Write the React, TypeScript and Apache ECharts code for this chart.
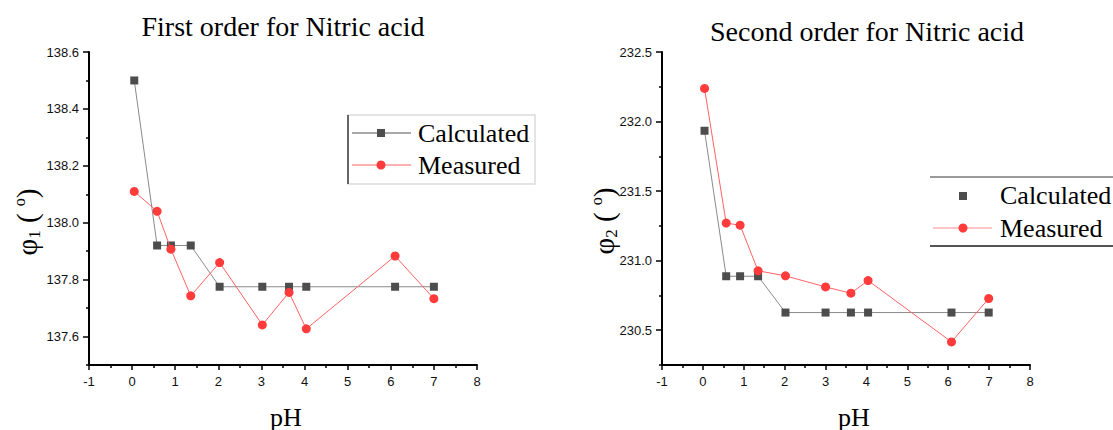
import React, { useEffect, useRef } from "react";
import * as echarts from "echarts";

// pH values (x)
const phLeft = [0.05, 0.58, 0.9, 1.36, 2.03, 3.02, 3.64, 4.04, 6.1, 7.0];
const phRight = [0.04, 0.57, 0.91, 1.35, 2.02, 3.0, 3.62, 4.04, 6.08, 6.99];

// First order (phi1)
const calculatedFirst = [138.5, 137.92, 137.92, 137.92, 137.775, 137.775, 137.775, 137.775, 137.775, 137.775];
const measuredFirst = [138.11, 138.04, 137.907, 137.743, 137.86, 137.641, 137.755, 137.627, 137.883, 137.733];

// Second order (phi2)
const calculatedSecond = [231.934, 230.888, 230.888, 230.888, 230.627, 230.627, 230.627, 230.627, 230.627, 230.627];
const measuredSecond = [232.238, 231.27, 231.255, 230.927, 230.891, 230.811, 230.766, 230.857, 230.416, 230.728];

// tick values
const yMajorLeft = [137.6, 137.8, 138.0, 138.2, 138.4, 138.6];
const yMinorLeft = [137.5, 137.7, 137.9, 138.1, 138.3, 138.5];
const yMajorRight = [230.5, 231.0, 231.5, 232.0, 232.5];
const yMinorRight = [230.25, 230.75, 231.25, 231.75, 232.25];

const titles = ["First order for Nitric acid", "Second order for Nitric acid"];
const seriesNames = ["Calculated", "Measured"];

const SANS = "Liberation Sans, Arial, sans-serif";
const SERIF = "Liberation Serif, Times New Roman, serif";

const zip = (xs: number[], ys: number[]) => xs.map((x, i) => [x, ys[i]]);

const axisLine = { show: true, onZero: false, lineStyle: { color: "#000", width: 2 } };

function xAxis(gridIndex: number) {
  return {
    type: "value",
    gridIndex,
    min: -1,
    max: 8,
    interval: 1,
    axisLine,
    axisTick: { show: true, length: 5, lineStyle: { color: "#000", width: 1.5 } },
    minorTick: { show: true, splitNumber: 2, length: 3, lineStyle: { color: "#000", width: 1.5 } },
    splitLine: { show: false },
    minorSplitLine: { show: false },
    axisLabel: { fontFamily: SANS, fontSize: 13, color: "#111", margin: 10 },
  };
}

function yAxes(gridIndex: number, min: number, max: number, interval: number, major: number[], minor: number[]) {
  return [
    {
      type: "value",
      gridIndex,
      position: "left",
      min,
      max,
      interval,
      axisLine,
      axisTick: { show: true, length: 6, customValues: major, lineStyle: { color: "#000", width: 1.5 } },
      axisLabel: {
        fontFamily: SANS,
        fontSize: 13,
        color: "#111",
        margin: 10,
        customValues: major,
        formatter: (v: number) => v.toFixed(1),
      },
      splitLine: { show: false },
    },
    {
      type: "value",
      gridIndex,
      position: "left",
      min,
      max,
      interval,
      axisLine: { show: false, onZero: false },
      axisTick: { show: true, length: 3, customValues: minor, lineStyle: { color: "#000", width: 1.5 } },
      axisLabel: { show: false },
      splitLine: { show: false },
    },
  ];
}

function calcSeries(xi: number, yi: number, data: number[][]) {
  return {
    name: seriesNames[0],
    type: "line",
    xAxisIndex: xi,
    yAxisIndex: yi,
    data,
    symbol: "rect",
    symbolSize: 8,
    itemStyle: { color: "#4d4d4d" },
    lineStyle: { color: "#8a8a8a", width: 1 },
    z: 2,
  };
}

function measSeries(xi: number, yi: number, data: number[][]) {
  return {
    name: seriesNames[1],
    type: "line",
    xAxisIndex: xi,
    yAxisIndex: yi,
    data,
    symbol: "circle",
    symbolSize: 9,
    itemStyle: { color: "#ff3b3b" },
    lineStyle: { color: "#ff6262", width: 1 },
    z: 3,
  };
}

function axisName(x: number, y: number, sub: string) {
  return {
    type: "text",
    x,
    y,
    rotation: Math.PI / 2,
    style: {
      text: `{a|φ}{b|${sub}}{a| ( }{c|o}{a|)}`,
      align: "center",
      verticalAlign: "middle",
      fill: "#000",
      rich: {
        a: { fontFamily: SERIF, fontSize: 29, lineHeight: 32 },
        b: { fontFamily: SERIF, fontSize: 17, lineHeight: 17, verticalAlign: "bottom" },
        c: { fontFamily: SERIF, fontSize: 16, lineHeight: 16, verticalAlign: "top" },
      },
    },
  };
}

function plainText(x: number, y: number, text: string, size: number, align = "center") {
  return {
    type: "text",
    x,
    y,
    style: { text, fontFamily: SERIF, fontSize: size, fill: "#000", align, verticalAlign: "middle" },
  };
}

export default function App() {
  const ref = useRef<HTMLDivElement>(null);

  useEffect(() => {
    if (!ref.current) return;
    const chart = echarts.init(ref.current, null, { renderer: "svg" });

    const option: any = {
      animation: false,
      backgroundColor: "#fff",
      grid: [
        { left: 89, top: 52, width: 388, height: 313 },
        { left: 662, top: 52, width: 368, height: 313 },
      ],
      xAxis: [xAxis(0), xAxis(1)],
      yAxis: [
        ...yAxes(0, 137.5, 138.6, 0.1, yMajorLeft, yMinorLeft),
        ...yAxes(1, 230.25, 232.5, 0.25, yMajorRight, yMinorRight),
      ],
      series: [
        calcSeries(0, 0, zip(phLeft, calculatedFirst)),
        measSeries(0, 0, zip(phLeft, measuredFirst)),
        calcSeries(1, 2, zip(phRight, calculatedSecond)),
        measSeries(1, 2, zip(phRight, measuredSecond)),
      ],
      graphic: [
        plainText(283, 26, titles[0], 28),
        plainText(867, 31, titles[1], 28),
        plainText(286, 417, "pH", 26),
        plainText(854, 417, "pH", 26),
        axisName(27, 222, "1"),
        axisName(604, 221, "2"),
        // left legend
        {
          type: "rect",
          shape: { x: 348, y: 115, width: 187, height: 69 },
          style: { fill: "#fff", stroke: "#dcdcdc", lineWidth: 1.5 },
        },
        { type: "line", shape: { x1: 348, y1: 115, x2: 348, y2: 184 }, style: { stroke: "#666", lineWidth: 2 } },
        { type: "line", shape: { x1: 352, y1: 133, x2: 411, y2: 133 }, style: { stroke: "#555", lineWidth: 1 } },
        { type: "rect", shape: { x: 377, y: 129, width: 8, height: 8 }, style: { fill: "#4d4d4d" } },
        plainText(418, 133, seriesNames[0], 26, "left"),
        { type: "line", shape: { x1: 352, y1: 165, x2: 411, y2: 165 }, style: { stroke: "#ff6262", lineWidth: 1 } },
        { type: "circle", shape: { cx: 381, cy: 165, r: 4.5 }, style: { fill: "#ff3b3b" } },
        plainText(418, 165, seriesNames[1], 26, "left"),
        // right legend
        { type: "line", shape: { x1: 930, y1: 177, x2: 1113, y2: 177 }, style: { stroke: "#9a9a9a", lineWidth: 2 } },
        { type: "line", shape: { x1: 930, y1: 246, x2: 1113, y2: 246 }, style: { stroke: "#555", lineWidth: 2 } },
        { type: "rect", shape: { x: 959, y: 192, width: 8, height: 8 }, style: { fill: "#4d4d4d" } },
        plainText(1000, 195, seriesNames[0], 26, "left"),
        { type: "line", shape: { x1: 933, y1: 228, x2: 992, y2: 228 }, style: { stroke: "#ff8a8a", lineWidth: 1 } },
        { type: "circle", shape: { cx: 963, cy: 228, r: 4.5 }, style: { fill: "#ff3b3b" } },
        plainText(1000, 228, seriesNames[1], 26, "left"),
      ],
    };

    chart.setOption(option);
    return () => chart.dispose();
  }, []);

  return (
    <div
      ref={ref}
      style={{ position: "absolute", left: 0, top: 0, width: 1113, height: 430, background: "#fff" }}
    />
  );
}
